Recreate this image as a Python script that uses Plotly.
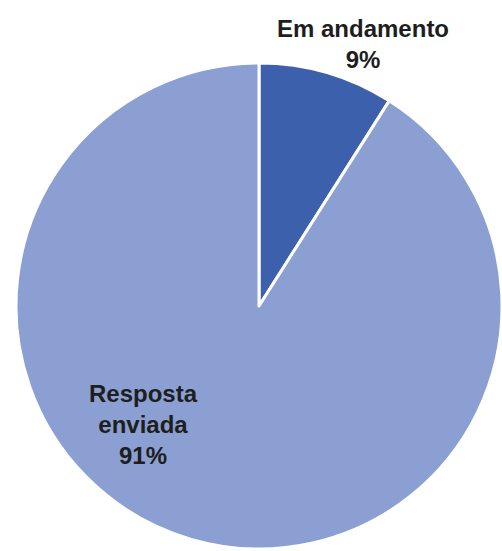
import plotly.graph_objects as go

# Status breakdown
categories = ["Em andamento", "Resposta enviada"]
display_labels = ["Em andamento", "Resposta<br>enviada"]
values = [9, 91]
colors = ["#3D60AC", "#8C9FD2"]

W, H = 502, 551
cx, cy, r = 259, 306, 243  # pie centre / radius in pixels

fig = go.Figure(
    go.Pie(
        labels=categories,
        values=values,
        sort=False,
        direction="clockwise",
        rotation=0,
        marker=dict(colors=colors, line=dict(color="white", width=3)),
        textinfo="none",
        hoverinfo="label+percent",
        showlegend=False,
        domain=dict(
            x=[(cx - r) / W, min(1.0, (cx + r) / W)],
            y=[(H - cy - r) / H, (H - cy + r) / H],
        ),
    )
)

total = sum(values)
pct = [round(v * 100 / total) for v in values]

label_pos = [(363, 44), (143, 424)]  # label block centres in pixels
font = dict(family="Liberation Sans, Arial, sans-serif", size=24, color="#1E1E1E")
for name, p, (px, py) in zip(display_labels, pct, label_pos):
    fig.add_annotation(
        text=f"<b>{name}<br>{p}%</b>",
        x=px / W,
        y=(H - py) / H,
        xref="paper",
        yref="paper",
        xanchor="center",
        yanchor="middle",
        showarrow=False,
        align="center",
        font=font,
    )

fig.update_layout(
    width=W,
    height=H,
    margin=dict(l=0, r=0, t=0, b=0),
    paper_bgcolor="white",
    plot_bgcolor="white",
)

fig.write_html("out.html")
